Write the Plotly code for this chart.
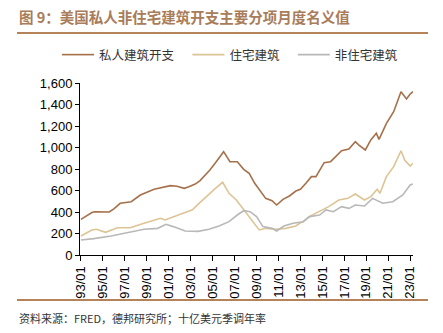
import plotly.graph_objects as go

# 私人建筑开支（十亿美元，季调年率）
total_dates = ["1993-01", "1993-07", "1994-01", "1994-04", "1995-01", "1995-08", "1996-01", "1996-08",
               "1997-08", "1998-06", "1999-09", "2000-06", "2001-03", "2001-10", "2002-06", "2002-11",
               "2003-06", "2003-11", "2004-10", "2005-05", "2006-01", "2006-08", "2007-04", "2007-11",
               "2008-05", "2008-11", "2009-04", "2009-11", "2010-06", "2010-11", "2011-06", "2012-01",
               "2012-08", "2013-01", "2013-07", "2014-01", "2014-06", "2015-03", "2015-10", "2016-10",
               "2017-06", "2018-01", "2018-05", "2018-12", "2019-06", "2019-12", "2020-03", "2020-11",
               "2021-07", "2022-03", "2022-09", "2023-01", "2023-04"]
total_vals = [332, 365, 395, 403, 405, 400, 430, 481,
              496, 558, 611, 630, 645, 640, 620, 635,
              660, 690, 790, 868, 961, 868, 868, 797,
              760, 667, 604, 527, 505, 465, 518, 549,
              595, 611, 667, 729, 729, 859, 868, 970,
              986, 1054, 1023, 977, 1070, 1132, 1076, 1225,
              1333, 1519, 1451, 1498, 1519]

# 住宅建筑
res_dates = ["1993-01", "1994-01", "1994-06", "1995-04", "1996-05", "1997-07", "1998-10", "1999-09",
             "2000-04", "2000-09", "2001-11", "2002-09", "2003-03", "2003-09", "2003-11", "2004-09",
             "2005-05", "2005-12", "2006-07", "2007-03", "2007-10", "2008-05", "2008-11", "2009-04",
             "2009-11", "2010-10", "2011-09", "2012-08", "2013-01", "2013-04", "2013-11", "2014-10",
             "2015-08", "2016-07", "2017-05", "2018-01", "2018-11", "2019-06", "2020-01", "2020-04",
             "2020-11", "2021-07", "2022-03", "2022-07", "2023-01", "2023-04"]
res_vals = [177, 233, 240, 211, 254, 254, 295, 326,
            341, 326, 372, 403, 420, 471, 487, 558,
            626, 676, 574, 512, 434, 363, 295, 233,
            248, 239, 248, 270, 300, 310, 360, 409,
            450, 512, 527, 567, 512, 543, 611, 574,
            729, 822, 970, 884, 828, 853]

# 非住宅建筑
nonres_dates = ["1993-01", "1994-03", "1995-10", "1997-04", "1998-10", "2000-01", "2000-10", "2001-06",
                "2002-07", "2003-09", "2004-09", "2005-08", "2006-07", "2007-04", "2007-11", "2008-06",
                "2009-01", "2009-08", "2010-06", "2010-11", "2011-07", "2012-05", "2013-04", "2013-11",
                "2014-10", "2015-05", "2016-01", "2016-10", "2017-06", "2018-01", "2018-11", "2019-08",
                "2020-07", "2021-06", "2022-05", "2023-01", "2023-04"]
nonres_vals = [140, 152, 177, 211, 239, 248, 285, 264,
               223, 220, 239, 270, 310, 372, 412, 403,
               357, 264, 248, 223, 270, 295, 310, 357,
               372, 419, 403, 450, 434, 465, 456, 527,
               481, 496, 558, 651, 660]

tick_years = list(range(1993, 2024, 2))
tick_vals = [f"{y}-01-01" for y in tick_years]
tick_text = [f"{y % 100:02d}/01" for y in tick_years]

BROWN = "#a6704b"
BEIGE = "#dcc494"
GRAY = "#b8b8b8"
CJK = "Noto Sans CJK SC"
LATIN = "Liberation Sans, Arial, sans-serif"
PAD = "\u00a0" * 3

fig = go.Figure()
fig.add_trace(go.Scatter(x=total_dates, y=total_vals, name="私人建筑开支" + PAD, mode="lines",
                         line=dict(color=BROWN, width=1.6)))
fig.add_trace(go.Scatter(x=res_dates, y=res_vals, name="住宅建筑" + PAD, mode="lines",
                         line=dict(color=BEIGE, width=1.6)))
fig.add_trace(go.Scatter(x=nonres_dates, y=nonres_vals, name="非住宅建筑", mode="lines",
                         line=dict(color=GRAY, width=1.6)))

# plot area spans x 80..413 px, y 83..255 px
L, R, T, B = 80, 413, 83, 255
W, H = R - L, B - T


def px(x):
    return (x - L) / W


def py(y):
    return (B - y) / H


fig.update_layout(
    width=443, height=333,
    margin=dict(l=L, r=443 - R, t=T, b=333 - B),
    paper_bgcolor="white", plot_bgcolor="white",
    showlegend=True,
    legend=dict(orientation="h", x=px(57), xanchor="left", y=py(55), yanchor="middle",
                font=dict(family=CJK, size=12.5, color="#333333"),
                itemwidth=32, tracegroupgap=0, bgcolor="rgba(0,0,0,0)"),
    xaxis=dict(type="date", range=["1992-12-01", "2023-04-05"],
               tickmode="array", tickvals=tick_vals, ticktext=tick_text, tickangle=-90,
               ticks="outside", ticklen=5, tickcolor="#000000", tickwidth=1,
               showline=True, linecolor="#000000", linewidth=1,
               showgrid=False, zeroline=False,
               tickfont=dict(family=LATIN, size=13, color="#000000")),
    yaxis=dict(range=[0, 1600], tickmode="array", tickvals=list(range(0, 1601, 200)),
               tickformat=",d", ticks="outside", ticklen=4, tickcolor="#000000",
               showline=True, linecolor="#000000", linewidth=1,
               showgrid=False, zeroline=False,
               tickfont=dict(family=LATIN, size=13, color="#000000")),
    shapes=[
        dict(type="line", xref="paper", yref="paper", x0=px(17), x1=px(428), y0=py(33), y1=py(33),
             line=dict(color="#b4835a", width=2)),
        dict(type="line", xref="paper", yref="paper", x0=px(17), x1=px(428), y0=py(300), y1=py(300),
             line=dict(color="#b4835a", width=2)),
    ],
    annotations=[
        dict(text="<b>图 9：美国私人非住宅建筑开支主要分项月度名义值</b>", xref="paper", yref="paper",
             x=px(17), y=py(16), xanchor="left", yanchor="middle", showarrow=False,
             font=dict(family=CJK, size=14.5, color="#a97c5a")),
        dict(text="资料来源：FRED，德邦研究所；十亿美元季调年率", xref="paper", yref="paper",
             x=px(17), y=py(318), xanchor="left", yanchor="middle", showarrow=False,
             font=dict(family=CJK, size=11, color="#333333")),
    ],
)

fig.write_html("out.html")
